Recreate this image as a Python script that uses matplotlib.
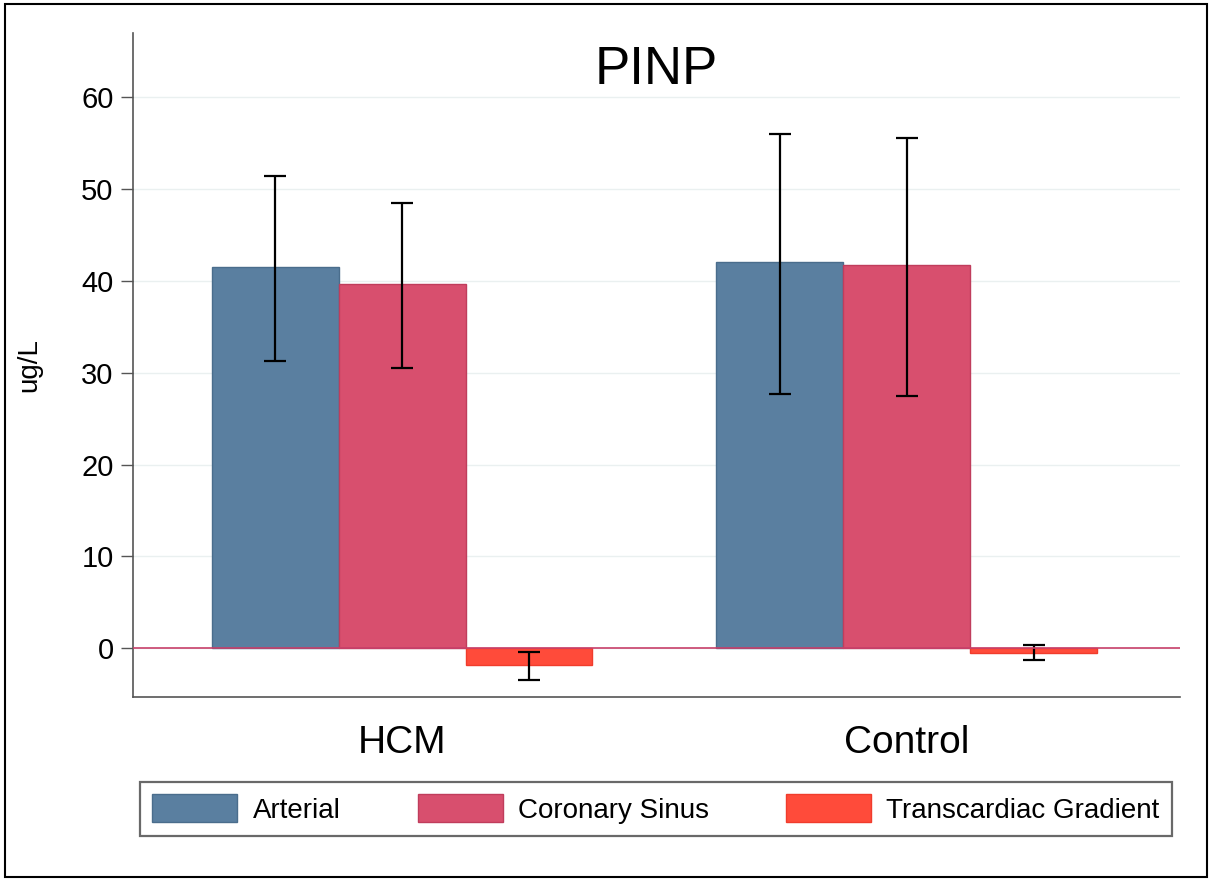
import numpy as np
import matplotlib.pyplot as plt
from matplotlib.patches import Patch, Rectangle

plt.rcParams['font.family'] = ['Liberation Sans', 'DejaVu Sans']

# Data
groups = ['HCM', 'Control']
series = ['Arterial', 'Coronary Sinus', 'Transcardiac Gradient']
means = {
    'Arterial': [41.5, 42.1],
    'Coronary Sinus': [39.7, 41.7],
    'Transcardiac Gradient': [-1.85, -0.47],
}
err_low = {
    'Arterial': [31.3, 27.7],
    'Coronary Sinus': [30.5, 27.5],
    'Transcardiac Gradient': [-3.4, -1.23],
}
err_high = {
    'Arterial': [51.4, 56.0],
    'Coronary Sinus': [48.5, 55.6],
    'Transcardiac Gradient': [-0.4, 0.33],
}
colors = ['#5a7fa0', '#d84f6e', '#ff4b3a']
edges = ['#4a6d8c', '#c03d5c', '#f03c2c']
yticks = [0, 10, 20, 30, 40, 50, 60]

fig = plt.figure(figsize=(12.12, 8.82), dpi=100)
ax = fig.add_axes([0.1097, 0.2098, 0.8639, 0.7528])

x = np.arange(len(groups))
w = 0.2515
for i, s in enumerate(series):
    pos = x + (i - 1) * w
    m = np.array(means[s])
    lo = m - np.array(err_low[s])
    hi = np.array(err_high[s]) - m
    ax.bar(pos, m, width=w, color=colors[i], edgecolor=edges[i], linewidth=1, zorder=2)
    ax.errorbar(pos, m, yerr=[lo, hi], fmt='none', ecolor='black',
                elinewidth=1.6, capsize=8, capthick=1.6, zorder=3)

ax.axhline(0, color='#c8406a', linewidth=1.2, zorder=4)

ax.set_xlim(-0.533, 1.541)
ax.set_ylim(-5.3, 67)
ax.set_yticks(yticks)
ax.tick_params(axis='y', labelsize=21, length=9, width=1, color='#555555', pad=5)
ax.set_xticks(x)
ax.set_xticklabels(groups, fontsize=28)
ax.tick_params(axis='x', length=0, pad=20)
ax.grid(axis='y', color='#eaf0f0', linewidth=1, zorder=0)
ax.set_axisbelow(True)
for sp in ['top', 'right']:
    ax.spines[sp].set_visible(False)
for sp in ['left', 'bottom']:
    ax.spines[sp].set_color('#555555')
    ax.spines[sp].set_linewidth(1.2)

ax.set_ylabel('ug/L', fontsize=20)
ax.yaxis.set_label_coords(-0.087, 0.5)
ax.text(0.5, 0.944, 'PINP', transform=ax.transAxes, ha='center', va='center', fontsize=38)

handles = [Patch(facecolor=c, edgecolor=e, linewidth=1) for c, e in zip(colors, edges)]
leg = fig.legend(handles, series, ncol=3, loc='lower left',
                 bbox_to_anchor=(0.1155, 0.052, 0.8515, 0.064), mode='expand',
                 fontsize=20, handlelength=3.05, handleheight=1.15, handletextpad=0.55,
                 frameon=True, fancybox=False, borderaxespad=0, borderpad=0.45)
leg.get_frame().set_edgecolor('#444444')
leg.get_frame().set_linewidth(1.6)

fig.patches.append(Rectangle((0.004, 0.006), 0.992, 0.99, transform=fig.transFigure,
                             fill=False, edgecolor='black', linewidth=1.5))

fig.savefig('out.png', dpi=100)
